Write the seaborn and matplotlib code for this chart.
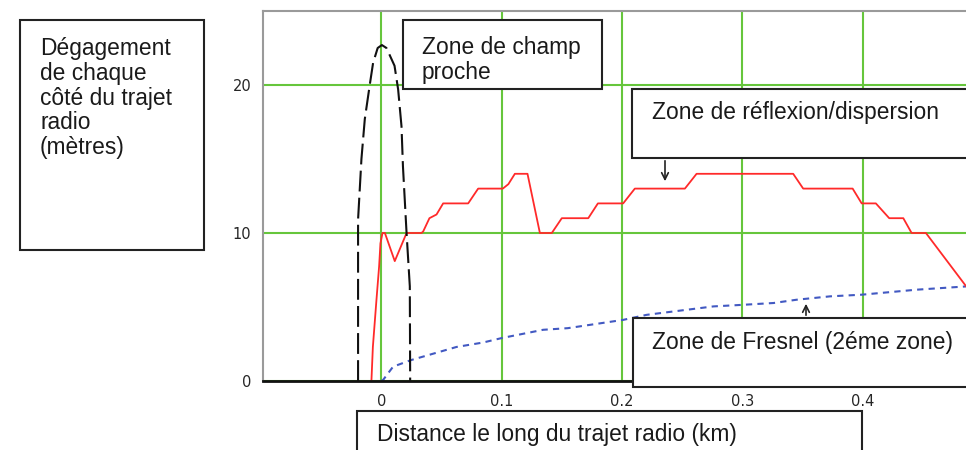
import matplotlib
matplotlib.use("Agg")
import matplotlib.pyplot as plt
from matplotlib.patches import Rectangle, FancyArrowPatch
import seaborn as sns

# Zone de champ proche (courbe noire en tirets longs)
champ_x = [-0.0193, -0.0193, -0.0165, -0.0137, -0.0096, -0.0068, -0.003, 0.0005, 0.0043,
           0.011, 0.014, 0.0168, 0.018, 0.021, 0.0237, 0.024]
champ_y = [0.0, 10.9, 15.0, 17.7, 20.0, 21.5, 22.5, 22.7, 22.5,
           21.3, 19.7, 17.2, 14.5, 10.0, 6.4, 0.0]

# Zone de réflexion/dispersion (courbe rouge)
reflexion_x = [-0.0082, -0.0070, -0.0040, -0.0018, -0.0007, 0.001, 0.003, 0.0112, 0.021,
               0.0334, 0.0348, 0.040, 0.0459, 0.0514, 0.0722, 0.0805, 0.101, 0.1056,
               0.111, 0.1215, 0.1318, 0.1417, 0.150, 0.172, 0.180, 0.201, 0.2107,
               0.2523, 0.262, 0.3423, 0.3506, 0.3917, 0.3992, 0.411, 0.4221, 0.4338,
               0.4407, 0.4526, 0.486]
reflexion_y = [0.0, 2.3, 5.5, 7.75, 9.3, 10.0, 10.0, 8.1, 10.0,
               10.0, 10.1, 11.0, 11.25, 12.0, 12.0, 13.0, 13.0, 13.3,
               14.0, 14.0, 10.0, 10.0, 11.0, 11.0, 12.0, 12.0, 13.0,
               13.0, 14.0, 14.0, 13.0, 13.0, 12.0, 12.0, 11.0, 11.0,
               10.0, 10.0, 6.4]

# Zone de Fresnel, 2ème zone (courbe bleue pointillée)
fresnel_x = [0.0, 0.0015, 0.0098, 0.025, 0.0625, 0.0846, 0.1, 0.1345, 0.155, 0.201,
             0.2205, 0.276, 0.301, 0.326, 0.345, 0.373, 0.399, 0.445, 0.486]
fresnel_y = [0.0, 0.07, 0.97, 1.42, 2.3, 2.6, 2.9, 3.46, 3.57, 4.13,
             4.47, 5.04, 5.15, 5.27, 5.49, 5.72, 5.83, 6.17, 6.39]

x_ticks = [0, 0.1, 0.2, 0.3, 0.4]
x_labels = ["0", "0.1", "0.2", "0.3", "0.4"]
y_ticks = [0, 10, 20]
y_labels = ["0", "10", "20"]

W, H = 966, 450


def px(x, y):
    # pixels de l'image (origine en haut à gauche) -> fraction de la figure
    return x / W, 1 - y / H


sns.set_style("white")
plt.rcParams['font.family'] = ['Liberation Sans', 'DejaVu Sans']

fig = plt.figure(figsize=(W / 100, H / 100), dpi=100)
ax = fig.add_axes([263 / W, 1 - 381 / H, (W - 263) / W, 370 / H])

sns.lineplot(x=fresnel_x, y=fresnel_y, ax=ax, color='#4259c2', lw=1.5,
             linestyle=(0, (3, 2.5)), estimator=None, sort=False)
sns.lineplot(x=reflexion_x, y=reflexion_y, ax=ax, color='#ff2a2a', lw=1.3,
             estimator=None, sort=False)
sns.lineplot(x=champ_x, y=champ_y, ax=ax, color='#111111', lw=1.5,
             linestyle=(0, (10, 3)), estimator=None, sort=False)

ax.set_xlim(-0.0983, 0.4859)
ax.set_ylim(0, 25)
ax.set_axisbelow(True)
ax.grid(True, color='#66c63c', lw=1.5)

ax.set_xticks(x_ticks, x_labels, fontsize=10.5, family='DejaVu Sans')
ax.set_yticks(y_ticks, y_labels, fontsize=10.5, family='DejaVu Sans')
ax.tick_params(axis='x', length=0, pad=9)
ax.tick_params(axis='y', length=0, pad=8.5)
ax.set_xlabel('')
ax.set_ylabel('')

for cote in ['left', 'top']:
    ax.spines[cote].set_color('#9a9a9a')
    ax.spines[cote].set_linewidth(1.5)
ax.spines['bottom'].set_color('#111111')
ax.spines['bottom'].set_linewidth(2)
ax.spines['right'].set_visible(False)


def boite(x0, y0, x1, y1):
    fx0, fy1 = px(x0, y1)
    fx1, fy0 = px(x1, y0)
    fig.add_artist(Rectangle((fx0, fy1), fx1 - fx0, fy0 - fy1, transform=fig.transFigure,
                             facecolor='white', edgecolor='#222222', lw=1.5, zorder=5))


def texte(x, y, s):
    fig.text(*px(x, y), s, fontsize=16.4, ha='left', va='top', color='#1a1a1a',
             linespacing=1.1, zorder=6)


def fleche(x, y0, y1):
    fig.add_artist(FancyArrowPatch(px(x, y0), px(x, y1), transform=fig.transFigure,
                                   arrowstyle='->', mutation_scale=12, lw=1.2,
                                   color='#222222', zorder=6))


# Boîtes de texte par-dessus le graphique
boite(20, 20, 204, 250)
texte(40, 37, "Dégagement\nde chaque\ncôté du trajet\nradio\n(mètres)")

boite(403, 20, 602, 89)
texte(422, 36, "Zone de champ\nproche")

boite(632, 89, 980, 158)
texte(652, 101, "Zone de réflexion/dispersion")
fleche(665, 158, 184)

boite(633, 318, 980, 387)
texte(652, 331, "Zone de Fresnel (2éme zone)")
fleche(806, 318, 301)

boite(357, 411, 862, 470)
texte(377, 423, "Distance le long du trajet radio (km)")

fig.savefig('out.png', dpi=100)
